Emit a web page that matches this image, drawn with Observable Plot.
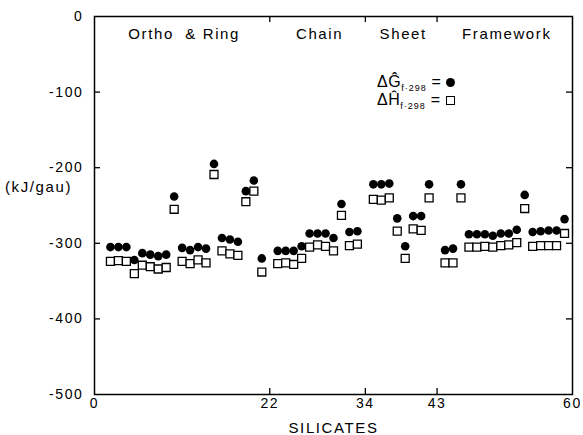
<!DOCTYPE html>
<html>
<head>
<meta charset="utf-8">
<script src="https://cdn.jsdelivr.net/npm/d3@7"></script>
<script src="https://cdn.jsdelivr.net/npm/@observablehq/plot@0.6"></script>
<style>
  body { margin: 0; background: #fff; }
  #wrap { position: relative; width: 583px; height: 435px; font-family: "Liberation Sans", Arial, sans-serif; }
  #wrap svg text { letter-spacing: 1.6px; white-space: pre; }
  .leg { position: absolute; left: 377px; font-size: 16px; line-height: 18px; color: #000; letter-spacing: 0.5px; white-space: nowrap; }
  .leg sub { font-size: 9px; vertical-align: -4px; line-height: 0; letter-spacing: 1px; }
  .sym { display: inline-block; box-sizing: border-box; vertical-align: 0px; }
  .circ { width: 9px; height: 9px; border-radius: 50%; background: #000; }
  .sq { width: 9px; height: 9px; border: 1.3px solid #000; background: #fff; }
</style>
</head>
<body>
<div id="wrap"></div>
<script>
// Silicate index (x) and the two series (kJ/gau)
const silicate = [2,3,4,5,6,7,8,9,10,11,12,13,14,15,16,17,18,19,20,21,
  23,24,25,26,27,28,29,30,31,32,33,
  35,36,37,38,39,40,41,42,
  44,45,46,47,48,49,50,51,52,53,54,55,56,57,58,59];
const deltaG = [-305,-305,-305,-322,-313,-315,-317,-315,-238,-306,-309,-305,-307,-195,-293,-295,-298,-231,-217,-320,
  -310,-310,-310,-304,-287,-287,-287,-293,-248,-285,-284,
  -222,-222,-221,-267,-304,-264,-264,-222,
  -309,-307,-222,-288,-288,-288,-290,-287,-287,-282,-236,-285,-284,-283,-283,-268];
const deltaH = [-324,-323,-324,-340,-329,-331,-334,-332,-255,-324,-327,-322,-326,-209,-310,-314,-316,-245,-231,-338,
  -327,-326,-328,-320,-305,-302,-304,-310,-263,-303,-301,
  -242,-243,-240,-284,-320,-281,-283,-240,
  -326,-326,-240,-305,-305,-304,-305,-303,-302,-299,-254,-304,-303,-303,-303,-287];

const groupNames = ["Ortho  & Ring", "Chain", "Sheet", "Framework"];
const groupBounds = [0, 22, 34, 43, 60];
const xTicks = [0, 22, 34, 43, 60];
const yTicks = [0, -100, -200, -300, -400, -500];
const yInnerTicks = [-100, -200, -300, -400];
const groupTicks = [22, 34, 43];

const rows = silicate.map((s, i) => ({s, G: deltaG[i], H: deltaH[i]}));
const groups = groupNames.map((name, i) => ({name, mid: (groupBounds[i] + groupBounds[i + 1]) / 2}));

const W = 583, H = 435, mL = 94, mR = 11, mT = 16, mB = 41;
const fw = W - mL - mR, fh = H - mT - mB;
const fmt = d => d === 0 ? "0" : "-" + Math.abs(d);

const chart = Plot.plot({
  width: W, height: H,
  marginLeft: mL, marginRight: mR, marginTop: mT, marginBottom: mB,
  style: {fontFamily: "'Liberation Sans', Arial, sans-serif", fontSize: "14px", color: "#000", background: "#fff"},
  x: {domain: [0, 60]},
  y: {domain: [-500, 0]},
  marks: [
    Plot.frame({stroke: "#000", strokeWidth: 1.5}),
    Plot.tickY(yInnerTicks, {y: d => d, insetRight: fw - 6, stroke: "#000", strokeWidth: 1.3}),
    Plot.tickY(yInnerTicks, {y: d => d, insetLeft: fw - 6, stroke: "#000", strokeWidth: 1.3}),
    Plot.tickX(groupTicks, {x: d => d, insetTop: fh - 6, stroke: "#000", strokeWidth: 1.3}),
    Plot.tickX(groupTicks, {x: d => d, insetBottom: fh - 6, stroke: "#000", strokeWidth: 1.3}),
    Plot.axisY({ticks: yTicks, tickSize: 0, tickPadding: 11, tickFormat: fmt, label: null, fontSize: 14}),
    Plot.axisX({ticks: xTicks, tickSize: 0, tickPadding: 4, tickFormat: d => String(d), label: null, fontSize: 14}),
    Plot.text(["SILICATES"], {text: d => d, frameAnchor: "bottom", lineAnchor: "middle", dy: 34, fontSize: 15}),
    Plot.text(["(kJ/gau)"], {text: d => d, frameAnchor: "left", lineAnchor: "middle", dx: -56, dy: -18, textAnchor: "middle", fontSize: 15}),
    Plot.text(groups, {x: "mid", text: "name", frameAnchor: "top", lineAnchor: "middle", dy: 18, dx: 2, fontSize: 15}),
    Plot.dot(rows, {x: "s", y: "H", symbol: "square", r: 4.5, fill: "#fff", stroke: "#000", strokeWidth: 1.3}),
    Plot.dot(rows, {x: "s", y: "G", r: 4.3, fill: "#000", stroke: "none"})
  ]
});

const wrap = document.getElementById("wrap");
wrap.appendChild(chart);

const leg1 = document.createElement("div");
leg1.className = "leg";
leg1.style.top = "73px";
leg1.innerHTML = 'ΔĜ<sub>f·298</sub> = <span class="sym circ"></span>';
wrap.appendChild(leg1);

const leg2 = document.createElement("div");
leg2.className = "leg";
leg2.style.top = "91px";
leg2.innerHTML = 'ΔĤ<sub>f·298</sub> = <span class="sym sq"></span>';
wrap.appendChild(leg2);
</script>
</body>
</html>
